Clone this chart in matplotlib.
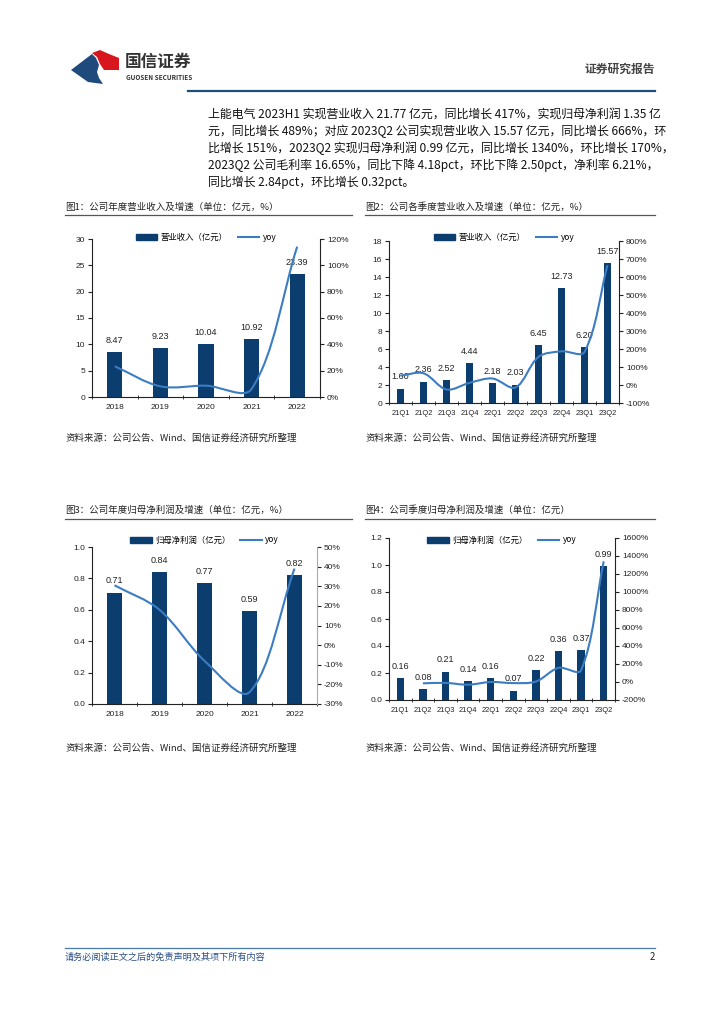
import numpy as np
import matplotlib
matplotlib.use("Agg")
import matplotlib.pyplot as plt
from matplotlib.path import Path
from matplotlib.patches import PathPatch, Polygon, Patch
from matplotlib.lines import Line2D

plt.rcParams['font.family'] = ['Noto Sans CJK SC', 'DejaVu Sans']
plt.rcParams['axes.unicode_minus'] = False

BAR = '#0b3d6e'
LINE = '#3c7cc3'
NUMFONT = ['Liberation Sans', 'Noto Sans CJK SC']

years = ['2018', '2019', '2020', '2021', '2022']
quarters = ['21Q1', '21Q2', '21Q3', '21Q4', '22Q1', '22Q2', '22Q3', '22Q4', '23Q1', '23Q2']

# 图1 年度营业收入（亿元）及同比（%）
rev_year = [8.47, 9.23, 10.04, 10.92, 23.39]
rev_year_yoy = [23.3, 8.1, 8.6, 6.1, 114.2]
# 图2 季度营业收入
rev_q = [1.60, 2.36, 2.52, 4.44, 2.18, 2.03, 6.45, 12.73, 6.20, 15.57]
rev_q_yoy = [52, 65, -25, 12, 36, -14, 156, 187, 184, 666]
# 图3 年度归母净利润
np_year = [0.71, 0.84, 0.77, 0.59, 0.82]
np_year_yoy = [30.5, 18, -8, -24, 39]
# 图4 季度归母净利润（21Q1 无同比）
np_q = [0.16, 0.08, 0.21, 0.14, 0.16, 0.07, 0.22, 0.36, 0.37, 0.99]
np_q_yoy = [None, -15, -10, -30, 0, -12, 5, 157, 131, 1340]

para = [
    "上能电气 2023H1 实现营业收入 21.77 亿元，同比增长 417%，实现归母净利润 1.35 亿",
    "元，同比增长 489%；对应 2023Q2 公司实现营业收入 15.57 亿元，同比增长 666%，环",
    "比增长 151%，2023Q2 实现归母净利润 0.99 亿元，同比增长 1340%，环比增长 170%，",
    "2023Q2 公司毛利率 16.65%，同比下降 4.18pct，环比下降 2.50pct，净利率 6.21%，",
    "同比增长 2.84pct，环比增长 0.32pct。",
]

W, H = 724, 1024
fig = plt.figure(figsize=(W / 100, H / 100), dpi=100)

# page decoration in pixel coordinates
bg = fig.add_axes([0, 0, 1, 1], zorder=0)
bg.set_xlim(0, W)
bg.set_ylim(H, 0)
bg.axis('off')

# logo
bg.add_patch(Polygon([(71, 70), (92, 54), (96, 58), (99, 65), (97, 72), (99, 78), (103, 84), (88, 82)],
                     closed=True, color='#1f4a7c', lw=0))
bg.add_patch(Polygon([(92, 53), (100, 50), (109, 54), (119, 58), (119, 70), (104, 70), (100, 64), (97, 57)],
                     closed=True, color='#d7161e', lw=0))
bg.text(125, 62, "国信证券", fontsize=12, fontweight='bold', color='#333333', va='center')
bg.text(126, 78, "GUOSEN SECURITIES", fontsize=4.6, fontweight='bold', color='#333333', va='center')
bg.text(655, 69, "证券研究报告", fontsize=8.5, fontweight='bold', color='#444444', va='center', ha='right')
bg.plot([188, 655], [91, 91], color='#1f4e79', lw=1.6)

for i, line in enumerate(para):
    bg.text(208, 114 + i * 17.2, line, fontsize=8.6, va='center', color='#111111')

titles = [
    (65, 207, 215, 352, "图1：公司年度营业收入及增速（单位：亿元，%）"),
    (365, 207, 215, 655, "图2：公司各季度营业收入及增速（单位：亿元，%）"),
    (65, 510, 519, 352, "图3：公司年度归母净利润及增速（单位：亿元，%）"),
    (365, 510, 519, 655, "图4：公司季度归母净利润及增速（单位：亿元）"),
]
for x0, ty, ly, x1, t in titles:
    bg.text(x0, ty, t, fontsize=6.8, va='center', color='#222222')
    bg.plot([x0, x1], [ly, ly], color='#555555', lw=0.9)

for x0, y0 in [(65, 438), (365, 438), (65, 748), (365, 748)]:
    bg.text(x0, y0, "资料来源：公司公告、Wind、国信证券经济研究所整理", fontsize=6.8,
            va='center', color='#222222')

bg.plot([65, 655], [948, 948], color='#4a79ad', lw=0.9)
bg.text(65, 957, "请务必阅读正文之后的免责声明及其项下所有内容", fontsize=6.6,
        style='italic', color='#2b4f86', va='center')
bg.text(655, 957, "2", fontsize=7, color='#222222', va='center', ha='right')


def smooth_path(xs, ys, sx, sy):
    # bezier smoothing, handle length proportional to neighbouring segment lengths (pixel space)
    pts = np.column_stack([xs, ys]).astype(float)
    n = len(pts)
    scale = np.array([sx, sy])

    def dist(a, b):
        return np.hypot(*((a - b) * scale))

    verts = [pts[0]]
    codes = [Path.MOVETO]
    for i in range(n - 1):
        p0 = pts[max(i - 1, 0)]
        p1 = pts[i]
        p2 = pts[i + 1]
        p3 = pts[min(i + 2, n - 1)]
        d12 = dist(p1, p2)
        d01 = dist(p0, p1) if i > 0 else d12
        d23 = dist(p2, p3) if i + 2 < n else d12
        c1 = p1 + (p2 - p0) * d12 / (d01 + d12) / 3 if i > 0 else p1 + (p2 - p1) / 3
        c2 = p2 - (p3 - p1) * d12 / (d12 + d23) / 3 if i + 2 < n else p2 - (p2 - p1) / 3
        verts += [c1, c2, p2]
        codes += [Path.CURVE4] * 3
    return Path(verts, codes)


def rect(x0, y0, x1, y1):
    return [x0 / W, 1 - y1 / H, (x1 - x0) / W, (y1 - y0) / H]


def chart(box, cats, vals, yoy, name, ylim, yticks, yfmt, y2lim, y2ticks, leg_y, label_off,
          xlsize=6, right_color='#222222'):
    ax = fig.add_axes(rect(*box), zorder=2)
    x = np.arange(len(cats))
    ax.bar(x, vals, width=0.33, color=BAR, zorder=2)
    span = ylim[1] - ylim[0]
    for xi, v in zip(x, vals):
        ax.text(xi, v + span * label_off, f'{v:.2f}', ha='center', va='bottom',
                fontsize=6.5, color='#222222', zorder=3, family=NUMFONT)
    ax.set_xlim(-0.5, len(cats) - 0.5)
    ax.set_ylim(*ylim)
    ax.set_yticks(yticks)
    ax.set_yticklabels([yfmt.format(v) for v in yticks], family=NUMFONT)
    ax.set_xticks(x)
    ax.set_xticklabels(cats, family=NUMFONT)
    ax.set_xticks(np.arange(len(cats) + 1) - 0.5, minor=True)
    ax.tick_params(axis='x', which='major', length=0, labelsize=xlsize, pad=5, colors='#222222')
    ax.tick_params(axis='x', which='minor', length=3, direction='inout', color='#222222')
    ax.tick_params(axis='y', length=3, direction='out', labelsize=6, pad=2, colors='#222222')
    for s in ['top', 'right']:
        ax.spines[s].set_visible(False)
    for s in ['left', 'bottom']:
        ax.spines[s].set_color('#222222')
        ax.spines[s].set_linewidth(0.8)

    ax2 = ax.twinx()
    ax2.set_ylim(*y2lim)
    ax2.set_yticks(y2ticks)
    ax2.set_yticklabels([f'{v}%' for v in y2ticks], family=NUMFONT)
    ax2.tick_params(axis='y', length=3, direction='out', labelsize=6, pad=2, colors='#222222')
    for s in ['top', 'left', 'bottom']:
        ax2.spines[s].set_visible(False)
    ax2.spines['right'].set_color(right_color)
    ax2.spines['right'].set_linewidth(0.8)
    xs = [xi for xi, v in zip(x, yoy) if v is not None]
    ys = [v for v in yoy if v is not None]
    sx = (box[2] - box[0]) / len(cats)
    sy = (box[3] - box[1]) / (y2lim[1] - y2lim[0])
    ax2.add_patch(PathPatch(smooth_path(xs, ys, sx, sy), fill=False, edgecolor=LINE,
                            lw=1.5, zorder=3))

    handles = [Patch(color=BAR), Line2D([], [], color=LINE, lw=1.5)]
    ax2.legend(handles, [name, 'yoy'], loc='center', ncol=2, frameon=False,
               bbox_to_anchor=(0.5, 1 - (leg_y - box[1]) / (box[3] - box[1])),
               fontsize=6, handlelength=2.6, handleheight=0.7, columnspacing=1.2,
               handletextpad=0.4, borderpad=0)
    return ax, ax2


chart((92, 239, 320, 397), years, rev_year, rev_year_yoy, '营业收入（亿元）',
      (0, 30), list(range(0, 31, 5)), '{:d}', (0, 120), list(range(0, 121, 20)), 237, 0.045)
chart((389, 241, 619, 403), quarters, rev_q, rev_q_yoy, '营业收入（亿元）',
      (0, 18), list(range(0, 19, 2)), '{:d}', (-100, 800), list(range(-100, 801, 100)), 237, 0.045,
      xlsize=5.4)
chart((92, 547, 317, 704), years, np_year, np_year_yoy, '归母净利润（亿元）',
      (0, 1.0), [0, 0.2, 0.4, 0.6, 0.8, 1.0], '{:.1f}', (-30, 50), list(range(-30, 51, 10)), 540,
      0.045, right_color='#aaaaaa')
chart((389, 538, 615, 700), quarters, np_q, np_q_yoy, '归母净利润（亿元）',
      (0, 1.2), [0, 0.2, 0.4, 0.6, 0.8, 1.0, 1.2], '{:.1f}', (-200, 1600),
      list(range(-200, 1601, 200)), 540, 0.045, xlsize=5.4)

fig.savefig('out.png', dpi=100)
